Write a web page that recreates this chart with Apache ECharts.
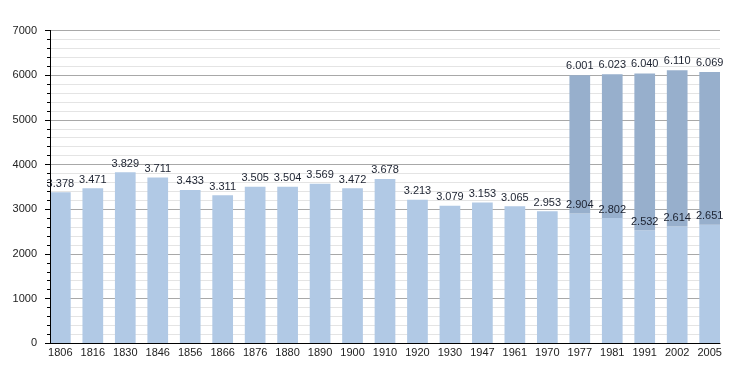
<!DOCTYPE html>
<html>
<head>
<meta charset="utf-8">
<script src="https://cdn.jsdelivr.net/npm/echarts@6/dist/echarts.min.js"></script>
<style>html,body{margin:0;padding:0;background:#fff}#c{width:750px;height:373px}</style>
</head>
<body>
<div id="c"></div>
<script>
var years = ['1806','1816','1830','1846','1856','1866','1876','1880','1890','1900','1910','1920','1930','1947','1961','1970','1977','1981','1991','2002','2005'];
var baseValues = [3378,3471,3829,3711,3433,3311,3505,3504,3569,3472,3678,3213,3079,3153,3065,2953,2904,2802,2532,2614,2651];
var totalValues = [null,null,null,null,null,null,null,null,null,null,null,null,null,null,null,null,6001,6023,6040,6110,6069];
var yTicks = [0,1000,2000,3000,4000,5000,6000,7000];

function fmt(v){ return String(v).replace(/\B(?=(\d{3})+(?!\d))/g,'.'); }
var upperValues = totalValues.map(function(t,i){ return t == null ? null : t - baseValues[i]; });

var font = 'Liberation Sans, Arial, sans-serif';
var chart = echarts.init(document.getElementById('c'));
chart.setOption({
  animation:false,
  grid:[
    {left:50, right:30, top:30.5, bottom:29.7},
    {left:44.12, right:24.12, top:30.5, bottom:29.7}
  ],
  xAxis:[
    {gridIndex:0, type:'value', min:0, max:1, z:10,
     axisLine:{show:true, lineStyle:{color:'#000', width:1}},
     axisTick:{show:false}, axisLabel:{show:false}, splitLine:{show:false}},
    {gridIndex:1, type:'category', data:years,
     axisLine:{show:false}, axisTick:{show:false},
     axisLabel:{color:'#222', fontSize:11, fontFamily:font, margin:4, interval:0}}
  ],
  yAxis:[
    {gridIndex:0, type:'value', min:yTicks[0], max:yTicks[yTicks.length-1], interval:1000, z:0,
     axisLine:{show:true, lineStyle:{color:'#000'}},
     axisTick:{show:true, length:5, lineStyle:{color:'#000'}},
     minorTick:{show:true, splitNumber:5, length:3, lineStyle:{color:'#000'}},
     axisLabel:{color:'#222', fontSize:11, fontFamily:font, margin:13,
       formatter:function(v){ return String(v); }},
     splitLine:{show:true, lineStyle:{color:'#a8a8a8', width:1}},
     minorSplitLine:{show:true, lineStyle:{color:'#e4e4e4', width:1}}},
    {gridIndex:1, type:'value', min:0, max:7000, show:false},
    {gridIndex:0, type:'value', min:0, max:7000, position:'left', z:10,
     axisLine:{show:true, lineStyle:{color:'#000'}},
     axisTick:{show:false}, axisLabel:{show:false}, splitLine:{show:false}}
  ],
  series:[
    {type:'bar', xAxisIndex:1, yAxisIndex:1, stack:'p', data:baseValues, barWidth:20.7,
     itemStyle:{color:'#b1c9e5'},
     label:{show:true, position:'top', distance:3, color:'#1c2230', fontSize:11, fontFamily:font,
       formatter:function(p){ return fmt(p.value); }}},
    {type:'bar', xAxisIndex:1, yAxisIndex:1, stack:'p', data:upperValues, barWidth:20.7,
     itemStyle:{color:'#97afcc'},
     label:{show:true, position:'top', distance:4, color:'#1c2230', fontSize:11, fontFamily:font,
       formatter:function(p){ return p.value == null ? '' : fmt(totalValues[p.dataIndex]); }}}
  ]
});
</script>
</body>
</html>
